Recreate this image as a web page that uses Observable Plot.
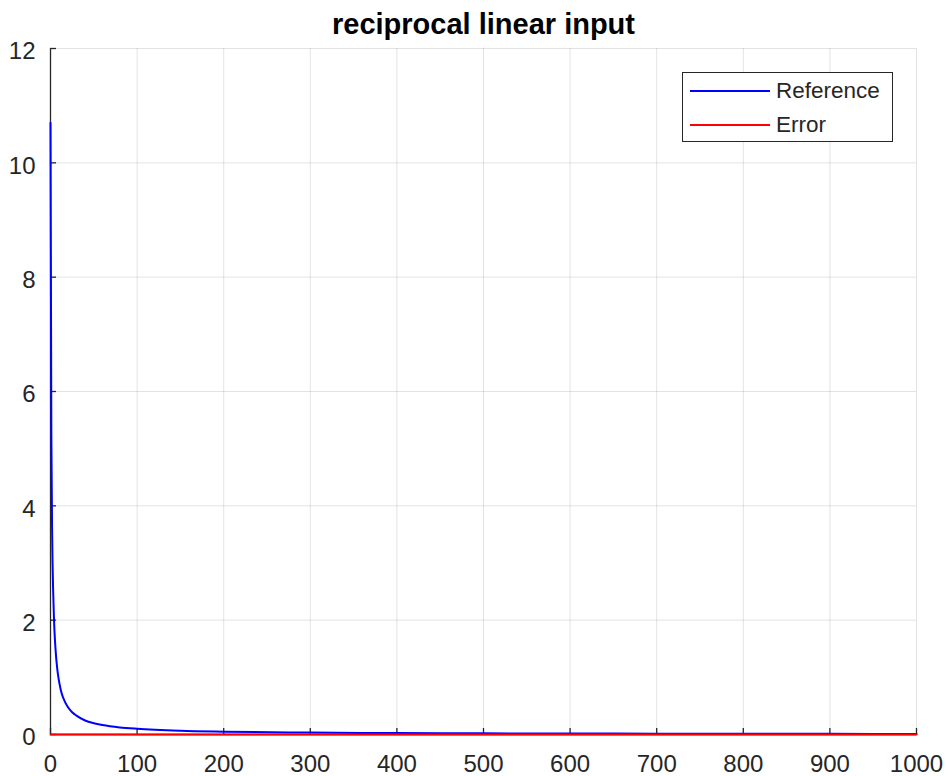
<!DOCTYPE html>
<html>
<head>
<meta charset="utf-8">
<script src="https://cdn.jsdelivr.net/npm/d3@7"></script>
<script src="https://cdn.jsdelivr.net/npm/@observablehq/plot@0.6"></script>
<style>
  html, body { margin: 0; padding: 0; background: #fff; }
  #wrap { position: relative; width: 948px; height: 776px; font-family: "Liberation Sans", Arial, sans-serif; }
  #legend { position: absolute; left: 682px; top: 72px; width: 211px; height: 70px; border: 1.3px solid #262626; background: #fff; box-sizing: border-box; }
  .li { position: absolute; left: 0; width: 100%; height: 24px; font-size: 22.5px; color: #262626; }
  .sw { position: absolute; left: 7px; width: 80px; height: 0; top: 11px; }
  .lt { position: absolute; left: 93px; top: 0; line-height: 24px; }
</style>
</head>
<body>
<div id="wrap"></div>
<script>
const title = "reciprocal linear input";
const seriesNames = ["Reference", "Error"];
const seriesColors = ["#0000ff", "#ff0000"];
const xTicks = [0, 100, 200, 300, 400, 500, 600, 700, 800, 900, 1000];
const yTicks = [0, 2, 4, 6, 8, 10, 12];
// Reference curve, values
const refX = [0, 1, 2, 3, 4, 5, 6, 8, 10, 12, 15, 20, 25, 30, 40, 50, 60, 80, 100, 150, 200, 300, 400, 500, 600, 700, 800, 900, 1000];
const refY = [10.7, 5.2, 3.4, 2.55, 2.03, 1.69, 1.45, 1.12, 0.92, 0.77, 0.63, 0.48, 0.39, 0.33, 0.245, 0.197, 0.165, 0.124, 0.10, 0.066, 0.05, 0.033, 0.025, 0.02, 0.017, 0.014, 0.0125, 0.011, 0.01];
// Error curve
const errX = [0, 250, 500, 750, 1000];
const errY = [0, 0, 0, 0, 0];

const ref = refX.map((x, i) => ({x, y: refY[i]}));
const err = errX.map((x, i) => ({x, y: errY[i]}));

const axisColor = "#262626";
const fmt = d => String(d);
const chart = Plot.plot({
  width: 948,
  height: 776,
  marginLeft: 50,
  marginRight: 32,
  marginTop: 48,
  marginBottom: 42,
  style: {fontFamily: "'Liberation Sans', Arial, sans-serif", fontSize: "24px", color: axisColor, background: "#fff", overflow: "visible"},
  x: {domain: [0, 1000]},
  y: {domain: [0, 12]},
  marks: [
    Plot.gridX(xTicks, {stroke: "#000", strokeOpacity: 0.11}),
    Plot.gridY(yTicks, {stroke: "#000", strokeOpacity: 0.11}),
    Plot.axisX(xTicks, {tickSize: 0, tickPadding: 20, tickFormat: fmt, label: null, fill: axisColor, fontSize: 24}),
    Plot.axisY(yTicks, {tickSize: 0, tickPadding: 15, tickFormat: fmt, label: null, fill: axisColor, fontSize: 24, dy: 3}),
    Plot.axisX(xTicks, {tickSize: 6, dy: -6, text: null, label: null, stroke: axisColor, strokeWidth: 1.3}),
    Plot.axisY(yTicks, {tickSize: 6, dx: 6, text: null, label: null, stroke: axisColor, strokeWidth: 1.3}),
    Plot.ruleX([0], {stroke: axisColor, strokeWidth: 1.3}),
    Plot.ruleY([0], {stroke: axisColor, strokeWidth: 1.3}),
    Plot.line(ref, {x: "x", y: "y", stroke: seriesColors[0], strokeWidth: 2, curve: "monotone-x"}),
    Plot.line(err, {x: "x", y: "y", stroke: seriesColors[1], strokeWidth: 2}),
    Plot.text([title], {frameAnchor: "top", dy: -35, fontWeight: "bold", fontSize: 29, fill: "#000"})
  ]
});
const wrap = document.getElementById("wrap");
wrap.appendChild(chart);
const lg = document.createElement("div");
lg.id = "legend";
seriesNames.forEach((n, i) => {
  const row = document.createElement("div");
  row.className = "li";
  row.style.top = (i === 0 ? 6 : 40) + "px";
  row.innerHTML = `<div class="sw" style="border-top:2px solid ${seriesColors[i]}"></div><div class="lt">${n}</div>`;
  lg.appendChild(row);
});
wrap.appendChild(lg);
</script>
</body>
</html>
